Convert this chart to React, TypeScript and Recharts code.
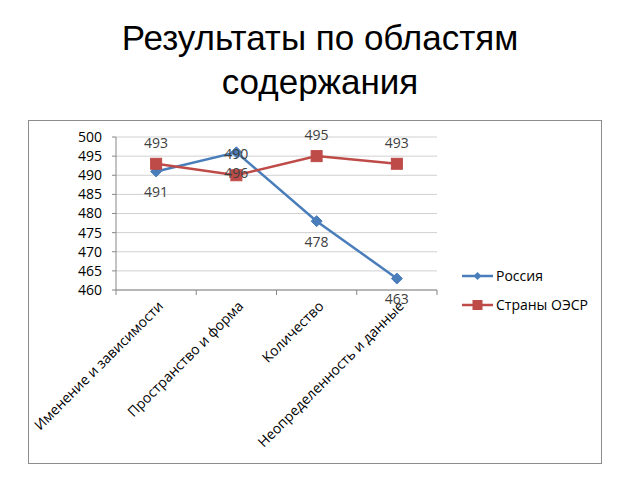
import React from "react";
import {
  LineChart,
  Line,
  XAxis,
  YAxis,
  CartesianGrid,
  LabelList,
} from "recharts";

const categories = [
  "Именение и зависимости",
  "Пространство и форма",
  "Количество",
  "Неопределенность и данные",
];
const russia = [491, 496, 478, 463];
const oecd = [493, 490, 495, 493];
const yTicks = [460, 465, 470, 475, 480, 485, 490, 495, 500];
const seriesNames = ["Россия", "Страны ОЭСР"];

const data = categories.map((c, i) => ({ cat: c, russia: russia[i], oecd: oecd[i] }));

const BLUE = "#4A7EBB";
const RED = "#BE4B48";
const AXIS = "#868686";
const FONT = "'Open Sans', Lato, sans-serif";

const BAND = 80.25;

const XTick = (props: any) => {
  const { x, y, payload, index } = props;
  const isLast = index === categories.length - 1;
  return (
    <g>
      <line x1={x - BAND / 2} y1={y - 8} x2={x - BAND / 2} y2={y - 3} stroke={AXIS} />
      {isLast && (
        <line x1={x + BAND / 2} y1={y - 8} x2={x + BAND / 2} y2={y - 3} stroke={AXIS} />
      )}
      <text
        x={x + 8}
        y={y + 9}
        textAnchor="end"
        fontSize={14}
        fill="#000"
        fontFamily={FONT}
        transform={`rotate(-45 ${x + 8} ${y + 9})`}
      >
        {payload.value}
      </text>
    </g>
  );
};

const Diamond = (props: any) => {
  const { cx, cy } = props;
  if (cx == null || cy == null) return null;
  const r = 5.5;
  return (
    <path
      d={`M${cx},${cy - r}L${cx + r},${cy}L${cx},${cy + r}L${cx - r},${cy}Z`}
      fill={BLUE}
      stroke={BLUE}
    />
  );
};

const Square = (props: any) => {
  const { cx, cy } = props;
  if (cx == null || cy == null) return null;
  const r = 5.5;
  return <rect x={cx - r} y={cy - r} width={2 * r} height={2 * r} fill={RED} stroke={RED} />;
};

const LegendBox = () => (
  <svg width={150} height={60} style={{ position: "absolute", left: 460, top: 266 }}>
    <line x1={2} y1={10} x2={33} y2={10} stroke={BLUE} strokeWidth={2.5} />
    <path d="M17.5,6L21.5,10L17.5,14L13.5,10Z" fill={BLUE} />
    <text x={36} y={15} fontSize={14} fontFamily={FONT} fill="#000">
      {seriesNames[0]}
    </text>
    <line x1={2} y1={39} x2={33} y2={39} stroke={RED} strokeWidth={2.5} />
    <rect x={12.5} y={34} width={10} height={10} fill={RED} />
    <text x={36} y={44} fontSize={14} fontFamily={FONT} fill="#000">
      {seriesNames[1]}
    </text>
  </svg>
);

export default function App() {
  return (
    <div
      style={{
        position: "absolute",
        left: 0,
        top: 0,
        width: 640,
        height: 480,
        background: "#fff",
        overflow: "hidden",
      }}
    >
      <div
        style={{
          position: "absolute",
          left: 0,
          top: 16,
          width: 640,
          textAlign: "center",
          fontFamily: "'Liberation Sans', Arial, sans-serif",
          fontSize: 35,
          lineHeight: "44px",
          color: "#000",
        }}
      >
        Результаты по областям
        <br />
        содержания
      </div>
      <div
        style={{
          position: "absolute",
          left: 28,
          top: 120,
          width: 574,
          height: 344,
          border: "1.5px solid #8c8c8c",
          boxSizing: "border-box",
        }}
      />
      <div style={{ position: "absolute", left: 0, top: 0 }}>
        <LineChart
          width={640}
          height={480}
          data={data}
          margin={{ top: 137, right: 203, bottom: 90, left: 76 }}
        >
          <CartesianGrid vertical={false} stroke="#d0d0d0" />
          <XAxis
            dataKey="cat"
            height={100}
            tick={<XTick />}
            tickLine={false}
            axisLine={{ stroke: AXIS }}
            interval={0}
            padding={{ left: BAND / 2, right: BAND / 2 }}
          />
          <YAxis
            width={40}
            domain={[460, 500]}
            ticks={yTicks}
            interval={0}
            tickLine={{ stroke: AXIS }}
            tickSize={4}
            tickMargin={10}
            axisLine={{ stroke: AXIS }}
            tick={{ fontSize: 14, fill: "#000", fontFamily: FONT }}
          />
          <Line
            dataKey="russia"
            name={seriesNames[0]}
            stroke={BLUE}
            strokeWidth={2.5}
            dot={<Diamond />}
            activeDot={false}
            isAnimationActive={false}
          >
            <LabelList
              dataKey="russia"
              position="bottom"
              offset={16}
              fontSize={14}
              fill="#404040"
              fontFamily={FONT}
            />
          </Line>
          <Line
            dataKey="oecd"
            name={seriesNames[1]}
            stroke={RED}
            strokeWidth={2.5}
            dot={<Square />}
            activeDot={false}
            isAnimationActive={false}
          >
            <LabelList
              dataKey="oecd"
              position="top"
              offset={16}
              fontSize={14}
              fill="#404040"
              fontFamily={FONT}
            />
          </Line>
        </LineChart>
      </div>
      <LegendBox />
    </div>
  );
}
